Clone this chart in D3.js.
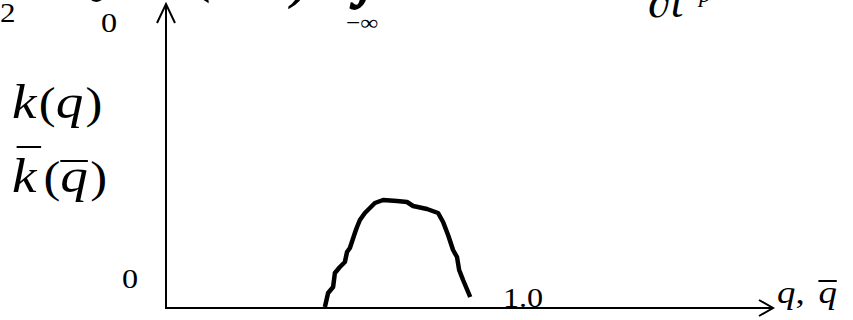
<!DOCTYPE html>
<html>
<head>
<meta charset="utf-8">
<script src="https://cdn.jsdelivr.net/npm/d3@7"></script>
<style>
  html, body { margin: 0; padding: 0; background: #fff; overflow: hidden; }
  text { font-family: "Liberation Serif", "Times New Roman", serif; fill: #000; }
</style>
</head>
<body>
<svg id="chart" width="853" height="320"></svg>
<script>
// Distribution curve k(q): sampled points of the hand-drawn bump
const qValues = [0.445, 0.454, 0.468, 0.473, 0.487, 0.501, 0.507, 0.515, 0.529, 0.535,
                 0.543, 0.557, 0.585, 0.608, 0.647, 0.675, 0.692, 0.731, 0.762, 0.776,
                 0.790, 0.804, 0.815, 0.821, 0.832, 0.852];
const kValues = [0.01, 0.15, 0.21, 0.35, 0.41, 0.46, 0.56, 0.60, 0.75, 0.81,
                 0.88, 0.95, 1.05, 1.08, 1.07, 1.06, 1.02, 0.99, 0.95, 0.86,
                 0.73, 0.58, 0.51, 0.38, 0.28, 0.11];

// Axis extents (data units) and tick labels
const qDomain = [0, 1.7];
const kDomain = [0, 3.04];
const yTickLabels = ["0"];
const xTickValues = [1.0];
const xTickLabels = ["1.0"];

// Glyphs are drawn slightly widened
const SX = 1.15;

const svg = d3.select("#chart");
const x = d3.scaleLinear().domain(qDomain).range([166, 773]);
const y = d3.scaleLinear().domain(kDomain).range([308, 4]);

// Axes with open arrowheads
const axes = svg.append("g").attr("stroke", "#000").attr("stroke-width", 2).attr("fill", "none");
axes.append("line").attr("x1", x(0)).attr("y1", y(0)).attr("x2", x(qDomain[1])).attr("y2", y(0));
axes.append("line").attr("x1", x(0)).attr("y1", y(0) + 1).attr("x2", x(0)).attr("y2", y(kDomain[1]));
axes.append("path")
  .attr("d", `M${x(qDomain[1]) - 14},${y(0) - 8}L${x(qDomain[1])},${y(0)}L${x(qDomain[1]) - 14},${y(0) + 8}`);
axes.append("path")
  .attr("d", `M${x(0) - 9},${y(kDomain[1]) + 19}L${x(0)},${y(kDomain[1])}L${x(0) + 9},${y(kDomain[1]) + 19}`);

// The curve
const pts = qValues.map((q, i) => [q, kValues[i]]);
svg.append("path")
  .datum(pts)
  .attr("fill", "none")
  .attr("stroke", "#000")
  .attr("stroke-width", 4.5)
  .attr("stroke-linejoin", "round")
  .attr("stroke-linecap", "butt")
  .attr("d", d3.line().x(d => x(d[0])).y(d => y(d[1])));

// Widened text anchored at (px, py)
function wideText(px, py, size, str, opts = {}) {
  const g = svg.append("g").attr("transform", `translate(${px},${py}) scale(${SX},1)`);
  const t = g.append("text").attr("x", 0).attr("y", 0).attr("font-size", size).text(str);
  if (opts.anchor) t.attr("text-anchor", opts.anchor);
  if (opts.italic) t.attr("font-style", "italic");
  return t;
}

// Tick labels
wideText(x(0) - 36, y(0) - 20, 28, yTickLabels[0], {anchor: "middle"});
xTickValues.forEach((v, i) => {
  wideText(x(v), y(0) - 1, 28, xTickLabels[i], {anchor: "middle"});
});

// Math-style label: parts with optional italic, own size, spacing and overbar
function mathLabel(px, py, size, parts) {
  const g = svg.append("g").attr("transform", `translate(${px},${py}) scale(${SX},1)`);
  const t = g.append("text").attr("x", 0).attr("y", 0).attr("font-size", size);
  parts.forEach(p => {
    const s = t.append("tspan").text(p.t);
    if (p.it) s.attr("font-style", "italic");
    if (p.dx) s.attr("dx", p.dx);
    if (p.size) s.attr("font-size", p.size);
  });
  const node = t.node();
  let idx = 0;
  parts.forEach(p => {
    if (p.bar) {
      const a = node.getStartPositionOfChar(idx).x;
      const b = node.getEndPositionOfChar(idx + p.t.length - 1).x;
      g.append("line")
        .attr("x1", a + p.bar[1]).attr("x2", b + p.bar[2])
        .attr("y1", -p.bar[0]).attr("y2", -p.bar[0])
        .attr("stroke", "#000").attr("stroke-width", 2);
    }
    idx += p.t.length;
  });
}

mathLabel(12, 118, 48, [
  {t: "k", it: true},
  {t: "(", dx: 2, size: 44},
  {t: "q", it: true},
  {t: ")", dx: 2, size: 44}
]);
mathLabel(12, 192, 48, [
  {t: "k", it: true, bar: [45, 4, 4]},
  {t: "(", dx: 6, size: 44},
  {t: "q", it: true, bar: [31, 0, 0]},
  {t: ")", dx: 2, size: 44}
]);
mathLabel(777, 303, 32, [
  {t: "q", it: true},
  {t: ","},
  {t: "q", it: true, dx: 12, bar: [22, 0, 0]}
]);

// Fragments of the formula above the diagram
wideText(0, 22, 27, "2");
svg.append("text").attr("x", 96).attr("y", -18).attr("font-size", 72)
  .attr("stroke", "#000").attr("stroke-width", 1.5).text("\u222B");
wideText(101, 32, 28, "0");
svg.append("text").attr("x", 187).attr("y", -12).attr("font-size", 72).text("(");
svg.append("text").attr("x", 286).attr("y", -6).attr("font-size", 72).text(")");
svg.append("text").attr("x", 354).attr("y", -10).attr("font-size", 72)
  .attr("stroke", "#000").attr("stroke-width", 1.5).text("\u222B");
wideText(346, 30, 22, "\u2212\u221E");
svg.append("text").attr("x", 648).attr("y", 17).attr("font-size", 46)
  .attr("font-style", "italic").text("\u2202t");
svg.append("text").attr("x", 699).attr("y", 2).attr("font-size", 24)
  .attr("font-style", "italic").text("p");
</script>
</body>
</html>
